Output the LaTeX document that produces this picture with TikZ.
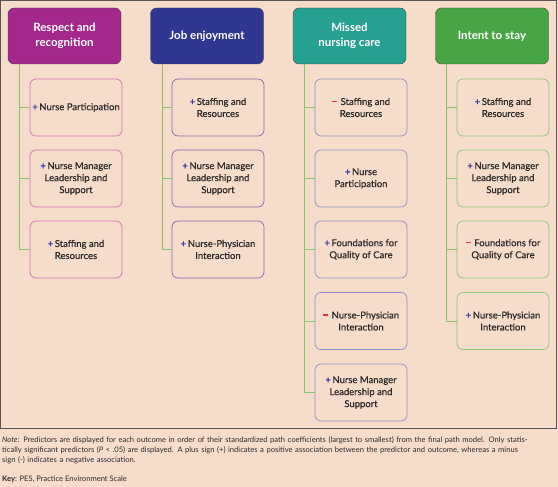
\documentclass[tikz,border=0pt]{standalone}
\usepackage{fontspec}
\setmainfont{Lato}
\newfontfamily\boxfont{Lato}[FakeBold=0.6]
\definecolor{bg}{HTML}{F6DDCB}
\definecolor{frame}{HTML}{5B5353}
\definecolor{hA}{HTML}{A2288C}
\definecolor{hB}{HTML}{2F3791}
\definecolor{hC}{HTML}{26A090}
\definecolor{hD}{HTML}{49A544}
\definecolor{hdline}{HTML}{4A4040}
\definecolor{bA}{HTML}{D473B9}
\definecolor{bB}{HTML}{8A64B4}
\definecolor{bC}{HTML}{8C90CC}
\definecolor{bD}{HTML}{8CC87A}
\definecolor{connc}{HTML}{86C46E}
\definecolor{plusc}{HTML}{3C3C9C}
\definecolor{minusc}{HTML}{E8343C}
\definecolor{txt}{HTML}{2E2A2A}
\newcommand{\pl}{\textcolor{plusc}{\textbf{+}}\,}
\newcommand{\mi}{\textcolor{minusc}{\rule[2.9pt]{5.5pt}{1.1pt}}\,\,}
\begin{document}
\begin{tikzpicture}[x=1pt,y=-1pt,
  head/.style={draw=hdline, line width=0.4pt, rounded corners=6pt, minimum width=113pt, minimum height=56pt, text=white, font=\fontsize{11.5}{15.5}\selectfont\bfseries, align=center, inner sep=2pt},
  pbox/.style={rounded corners=6pt, line width=0.7pt, minimum width=92pt, minimum height=57pt, text=txt, font=\boxfont\fontsize{9.5}{12}\selectfont, align=center, inner sep=1pt},
  conn/.style={draw=connc, line width=0.8pt}]
\useasboundingbox (0,0) rectangle (558,487);
\fill[bg] (0,0) rectangle (558,487);
\draw[frame, line width=1pt] (0.5,0.5) rectangle (556.5,428);

% headers
\node[head, fill=hA] (h1) at (64.5,36) {Respect and\\recognition};
\node[head, fill=hB] (h2) at (207,36) {Job enjoyment};
\node[head, fill=hC] (h3) at (349.5,36) {Missed\\nursing care};
\node[head, fill=hD] (h4) at (492,36) {Intent to stay};

% column 1
\node[pbox, draw=bA] (a1) at (76,107.5) {\pl Nurse Participation};
\node[pbox, draw=bA] (a2) at (76,178.5) {\pl Nurse Manager\\Leadership and\\Support};
\node[pbox, draw=bA] (a3) at (76,249.5) {\pl Staffing and\\Resources};
% column 2
\node[pbox, draw=bB] (b1) at (218,107.5) {\pl Staffing and\\Resources};
\node[pbox, draw=bB] (b2) at (218,178.5) {\pl Nurse Manager\\Leadership and\\Support};
\node[pbox, draw=bB] (b3) at (218,249.5) {\pl Nurse-Physician\\Interaction};
% column 3
\node[pbox, draw=bC] (c1) at (361,107.5) {\mi Staffing and\\Resources};
\node[pbox, draw=bC] (c2) at (361,178.5) {\pl Nurse\\Participation};
\node[pbox, draw=bC] (c3) at (361,249.5) {\pl Foundations for\\Quality of Care};
\node[pbox, draw=bC] (c4) at (361,321) {\mi Nurse-Physician\\Interaction};
\node[pbox, draw=bC] (c5) at (361,392.5) {\pl Nurse Manager\\Leadership and\\Support};
% column 4
\node[pbox, draw=bD] (d1) at (503,107.5) {\pl Staffing and\\Resources};
\node[pbox, draw=bD] (d2) at (503,178.5) {\pl Nurse Manager\\Leadership and\\Support};
\node[pbox, draw=bD] (d3) at (503,249.5) {\mi Foundations for\\Quality of Care};
\node[pbox, draw=bD] (d4) at (503,321) {\pl Nurse-Physician\\Interaction};

% connectors
\coordinate (t1) at (19,64);
\coordinate (t2) at (162,64);
\coordinate (t3) at (304,64);
\coordinate (t4) at (446,64);
\foreach \n in {a1,a2,a3} \draw[conn] (t1) |- (\n.west);
\foreach \n in {b1,b2,b3} \draw[conn] (t2) |- (\n.west);
\foreach \n in {c1,c2,c3,c4,c5} \draw[conn] (t3) |- (\n.west);
\foreach \n in {d1,d2,d3,d4} \draw[conn] (t4) |- (\n.west);

% note
\node[anchor=north west, inner sep=0pt, text width=554pt, align=left, text=txt,
      font=\fontsize{7.6}{10}\selectfont] (note) at (2,436)
  {\makebox[554pt][s]{\textit{Note}: Predictors are displayed for each outcome in order of their standardized path coefficients (largest to smallest) from the final path model. Only statis-}\\
   \makebox[554pt][s]{tically significant predictors (\textit{P} < .05) are displayed. A plus sign (+) indicates a positive association between the predictor and outcome, whereas a minus}\\
   sign (-) indicates a negative association.};
\node[anchor=north west, inner sep=0pt, text=txt, font=\fontsize{7.6}{10}\selectfont] (key) at (2,475.5)
  {\textbf{Key}: PES, Practice Environment Scale};
\end{tikzpicture}
\end{document}
